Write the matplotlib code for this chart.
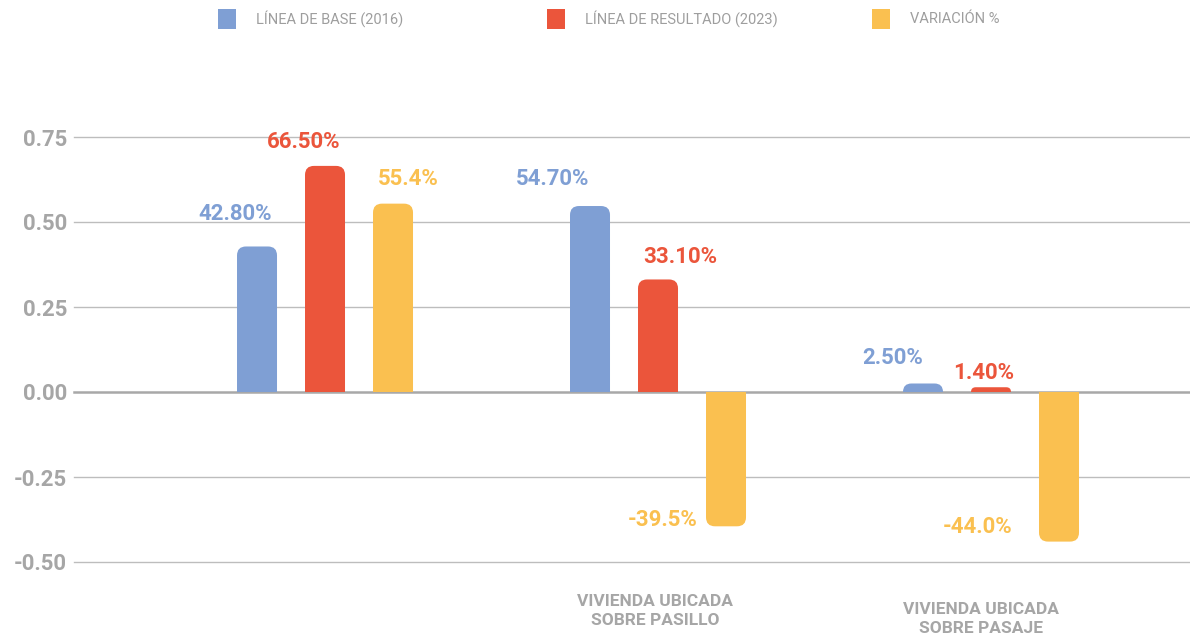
import matplotlib
matplotlib.use("Agg")
import matplotlib.pyplot as plt
from matplotlib.path import Path
from matplotlib.patches import PathPatch, Rectangle
import numpy as np

# ---------------- data ----------------
categories = ["", "VIVIENDA UBICADA\nSOBRE PASILLO", "VIVIENDA UBICADA\nSOBRE PASAJE"]
series_names = ["LÍNEA DE BASE (2016)", "LÍNEA DE RESULTADO (2023)", "VARIACIÓN %"]
base_2016 = [0.428, 0.547, 0.025]
result_2023 = [0.665, 0.331, 0.014]
variation = [0.554, -0.395, -0.440]
base_labels = ["42.80%", "54.70%", "2.50%"]
result_labels = ["66.50%", "33.10%", "1.40%"]
variation_labels = ["55.4%", "-39.5%", "-44.0%"]
yticks = [-0.50, -0.25, 0.00, 0.25, 0.50, 0.75]

# ---------------- style ----------------
colors = ["#7F9FD4", "#EB553B", "#FAC050"]
gray_text = "#A6A6A6"
grid_color = "#BDBDBD"
FONT = "Roboto"

W, H, DPI = 11.9, 6.41, 100
fig = plt.figure(figsize=(W, H), dpi=DPI)
ax = fig.add_axes([74 / 1190, (641 - 562) / 641, 1 - 74 / 1190, (562 - 103) / 641])
ax.set_xlim(-0.7538, 2.5976)
ax.set_ylim(-0.5, 0.85)
for s in ax.spines.values():
    s.set_visible(False)
ax.tick_params(length=0)
ax.set_xticks([])
ax.set_yticks(yticks)
ax.set_yticklabels([f"{v:.2f}" for v in yticks], fontfamily=FONT, fontweight="bold",
                   fontsize=16, color=gray_text)
ax.tick_params(axis="y", pad=5)
for v in yticks:
    if v == 0:
        ax.axhline(v, color="#A8A8A8", lw=1.8, zorder=1, clip_on=False)
    else:
        ax.axhline(v, color=grid_color, lw=1.0, zorder=1, clip_on=False)

# pixel scale
px_x = (1190 - 74) / (ax.get_xlim()[1] - ax.get_xlim()[0])
px_y = (562 - 103) / (ax.get_ylim()[1] - ax.get_ylim()[0])


def rounded_bar(xc, width, value, color, r_px=9):
    x0, x1 = xc - width / 2, xc + width / 2
    y0, y1 = 0.0, value
    s = 1 if value >= 0 else -1
    h_px = abs(value) * px_y
    r = min(r_px, width * px_x / 2, max(h_px, 0.1))
    rx = r / px_x
    ry = r / px_y
    verts = [(x0, y0), (x0, y1 - s * ry), (x0, y1), (x0 + rx, y1),
             (x1 - rx, y1), (x1, y1), (x1, y1 - s * ry), (x1, y0), (x0, y0)]
    codes = [Path.MOVETO, Path.LINETO, Path.CURVE3, Path.CURVE3,
             Path.LINETO, Path.CURVE3, Path.CURVE3, Path.LINETO, Path.CLOSEPOLY]
    ax.add_patch(PathPatch(Path(verts, codes), facecolor=color, edgecolor="none", zorder=3))


x = np.arange(len(categories))
offset = 68 / px_x
width = 40 / px_x
all_series = [base_2016, result_2023, variation]
all_labels = [base_labels, result_labels, variation_labels]
# label offsets in pixels (dx, dy) relative to bar end
label_offsets = [
    [(-22, 32), (-37, 27), (-30, 25)],
    [(-21, 24), (22, 22), (-7, 14)],
    [(15, 25), (-63, 6), (-81, 15)],
]
for si, (vals, labs) in enumerate(zip(all_series, all_labels)):
    for gi, (v, lab) in enumerate(zip(vals, labs)):
        xc = x[gi] + (si - 1) * offset
        rounded_bar(xc, width, v, colors[si])
        dx, dy = label_offsets[si][gi]
        ax.annotate(lab, xy=(xc, v), xytext=(dx, dy), textcoords="offset pixels",
                    ha="center", va="center", fontfamily=FONT, fontweight="bold",
                    fontsize=16, color=colors[si], zorder=4, annotation_clip=False)

# category labels
cat_dy = [-49, -49, -57]
cat_dx = [0, -3, -10]
for gi, cat in enumerate(categories):
    ax.annotate(cat, xy=(x[gi], -0.5), xytext=(cat_dx[gi], cat_dy[gi]),
                textcoords="offset pixels", ha="center", va="center",
                fontfamily=FONT, fontweight="bold", fontsize=12.5, color=gray_text,
                linespacing=1.3, annotation_clip=False)

# legend (manual)
leg_x = [218, 547, 872]
for i, name in enumerate(series_names):
    fig.patches.append(Rectangle((leg_x[i] / 1190, 1 - 29 / 641), 18 / 1190, 20 / 641,
                                 transform=fig.transFigure, facecolor=colors[i],
                                 edgecolor="none"))
    fig.text((leg_x[i] + 38) / 1190, 1 - 19 / 641, name, ha="left", va="center",
             fontfamily=FONT, fontsize=10.5, color="#9E9E9E")

fig.savefig("out.png", dpi=DPI)
